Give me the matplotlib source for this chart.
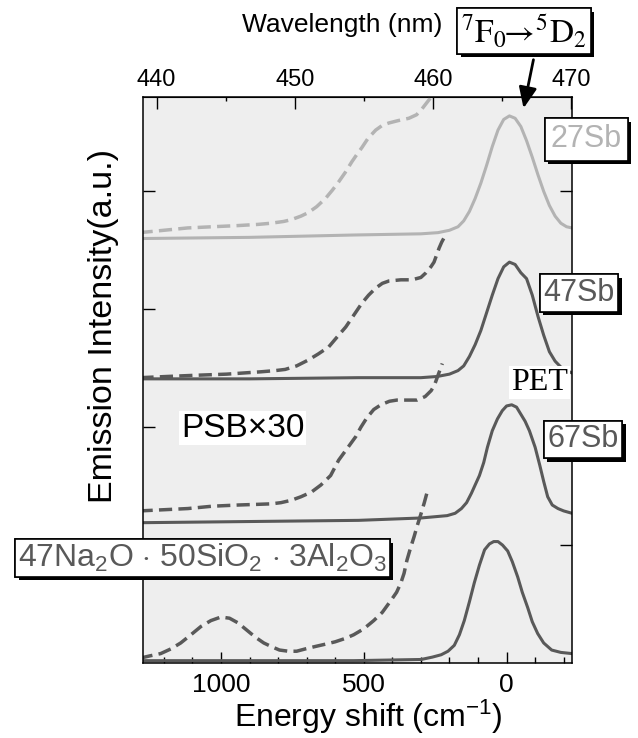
import matplotlib.pyplot as plt
import matplotlib.patheffects as pe

plt.rcParams['font.family'] = ['Liberation Sans', 'DejaVu Sans']
plt.rcParams['mathtext.fontset'] = 'custom'
plt.rcParams['mathtext.rm'] = 'Liberation Sans'
plt.rcParams['mathtext.it'] = 'Liberation Sans:italic'
plt.rcParams['mathtext.bf'] = 'Liberation Sans:bold'

# ---- data (energy shift in cm-1, stacked intensity) ----
e_27 = [1282, 900, 535, 300, 240, 200, 170, 150, 130, 110, 90, 70, 50, 30, 10, -10, -30, -50, -70,
        -90, -110, -130, -150, -170, -190, -210, -229]
i_27 = [3.60, 3.61, 3.63, 3.64, 3.65, 3.67, 3.70, 3.75, 3.83, 3.94, 4.07, 4.22, 4.38, 4.52, 4.61, 4.64,
        4.62, 4.55, 4.43, 4.29, 4.14, 4.00, 3.88, 3.79, 3.73, 3.70, 3.69]
e_27_psb = [1285, 1200, 1116, 1030, 940, 870, 824, 780, 754, 720, 694, 665, 634, 610, 588, 565, 542,
            525, 507, 485, 458, 435, 412, 380, 342, 315, 296, 280, 264]
i_27_psb = [3.65, 3.67, 3.69, 3.70, 3.71, 3.72, 3.73, 3.745, 3.76, 3.79, 3.82, 3.87, 3.94, 4.01, 4.08,
            4.16, 4.25, 4.31, 4.37, 4.45, 4.52, 4.56, 4.58, 4.60, 4.62, 4.65, 4.70, 4.75, 4.80]

e_47 = [1282, 900, 518, 300, 243, 200, 170, 150, 130, 110, 90, 70, 50, 30, 10, -10, -30, -50, -70,
        -90, -110, -130, -150, -170, -190, -210, -229]
i_47 = [2.41, 2.41, 2.42, 2.42, 2.43, 2.45, 2.48, 2.52, 2.60, 2.70, 2.82, 2.97, 3.12, 3.26, 3.36, 3.40,
        3.38, 3.31, 3.26, 3.12, 2.94, 2.78, 2.64, 2.56, 2.51, 2.48, 2.46]
e_47_psb = [1282, 1190, 1092, 980, 859, 810, 775, 735, 694, 660, 623, 595, 563, 535, 507, 483, 458,
            435, 412, 370, 331, 300, 282, 265, 254, 245, 236, 227, 218]
i_47_psb = [2.42, 2.43, 2.44, 2.45, 2.47, 2.48, 2.49, 2.52, 2.57, 2.62, 2.68, 2.76, 2.85, 2.95, 3.05,
            3.12, 3.18, 3.22, 3.24, 3.25, 3.25, 3.27, 3.31, 3.36, 3.40, 3.46, 3.52, 3.57, 3.61]

e_67 = [1282, 900, 518, 300, 208, 180, 158, 140, 123, 110, 95, 80, 67, 50, 32, 15, 0, -18, -35, -50,
        -65, -80, -100, -116, -130, -144, -160, -180, -200, -229]
i_67 = [1.19, 1.20, 1.21, 1.23, 1.25, 1.27, 1.31, 1.36, 1.44, 1.51, 1.59, 1.70, 1.83, 1.97, 2.07, 2.14,
        2.18, 2.19, 2.17, 2.11, 2.05, 1.97, 1.83, 1.68, 1.54, 1.41, 1.34, 1.31, 1.29, 1.27]
e_67_psb = [1285, 1200, 1116, 1030, 940, 880, 824, 790, 754, 720, 683, 650, 616, 588, 558, 528, 510,
            489, 465, 440, 410, 384, 350, 313, 285, 264, 252, 243, 234, 225]
i_67_psb = [1.29, 1.30, 1.31, 1.33, 1.34, 1.345, 1.35, 1.36, 1.38, 1.41, 1.45, 1.51, 1.59, 1.72, 1.82,
            1.92, 2.00, 2.08, 2.15, 2.19, 2.22, 2.23, 2.23, 2.23, 2.26, 2.31, 2.36, 2.42, 2.48, 2.54]

e_nas = [1282, 900, 535, 299, 260, 229, 205, 183, 165, 148, 130, 113, 95, 77, 60, 45, 30, 14, -4, -20,
         -39, -55, -74, -90, -109, -130, -158, -190, -229]
i_nas = [0.02, 0.02, 0.02, 0.03, 0.05, 0.07, 0.10, 0.15, 0.24, 0.36, 0.52, 0.68, 0.83, 0.96, 1.01,
         1.03, 1.03, 1.00, 0.95, 0.86, 0.73, 0.60, 0.47, 0.35, 0.25, 0.17, 0.11, 0.09, 0.08]
e_nas_psb = [1285, 1250, 1211, 1175, 1141, 1105, 1070, 1035, 1000, 970, 940, 910, 880, 850, 824, 795,
             764, 735, 704, 670, 634, 600, 563, 535, 500, 465, 435, 405, 385, 370, 359, 349, 337, 324,
             312, 299, 288, 278]
i_nas_psb = [0.04, 0.06, 0.08, 0.12, 0.17, 0.24, 0.31, 0.36, 0.39, 0.38, 0.34, 0.28, 0.22, 0.17, 0.14,
             0.11, 0.10, 0.10, 0.12, 0.14, 0.16, 0.18, 0.21, 0.24, 0.29, 0.36, 0.43, 0.53, 0.60, 0.68,
             0.76, 0.87, 0.97, 1.07, 1.17, 1.27, 1.36, 1.45]

energy_major = [1000, 500, 0]
energy_minor = [1200, 1100, 900, 800, 700, 600, 400, 300, 200, 100, -100, -200]
wl_major = [440, 450, 460, 470]
wl_minor = [445, 455, 465]
y_ticks = [1, 2, 3, 4]

light = '#b3b3b3'
dark = '#595959'

fig = plt.figure(figsize=(6.38, 7.38), dpi=100)
ax = fig.add_axes([0.2241, 0.1016, 0.6724, 0.7669])
ax.set_facecolor('#eeeeee')

dash = (3.8, 1.8)
ax.plot(e_27_psb, i_27_psb, color=light, lw=2.5, dashes=dash)
ax.plot(e_27, i_27, color=light, lw=2.2)
ax.plot(e_47_psb, i_47_psb, color=dark, lw=2.5, dashes=dash)
ax.plot(e_47, i_47, color=dark, lw=2.2)
ax.plot(e_67_psb, i_67_psb, color=dark, lw=2.5, dashes=dash)
ax.plot(e_67, i_67, color=dark, lw=2.2)
ax.plot(e_nas_psb, i_nas_psb, color=dark, lw=2.5, dashes=dash)
ax.plot(e_nas, i_nas, color=dark, lw=2.2)

ax.set_xlim(1273, -229)
ax.set_ylim(0, 4.8)
ax.set_xticks(energy_major)
ax.set_xticks(energy_minor, minor=True)
ax.set_yticks(y_ticks)
ax.tick_params(axis='x', which='major', direction='in', length=8, width=1, labelsize=19, pad=7, top=False)
ax.tick_params(axis='x', which='minor', direction='in', length=4, width=1, top=False)
ax.tick_params(axis='y', direction='in', length=8.5, width=1, left=True, right=True, labelleft=False)
for s in ax.spines.values():
    s.set_linewidth(1.1)

# top wavelength axis (linear, as in the original figure)
sec = ax.secondary_xaxis('top', functions=(lambda e: 465.31 - 0.020658 * e,
                                           lambda w: (465.31 - w) / 0.020658))
sec.set_xticks(wl_major)
sec.set_xticks(wl_minor, minor=True)
sec.tick_params(which='major', direction='in', length=8.5, width=1, labelsize=17, pad=4)
sec.tick_params(which='minor', direction='in', length=3, width=1)

fig.text(0.5356, 0.966, 'Wavelength (nm)', fontsize=19, ha='center', va='center')
fig.text(0.578, 0.029, r'Energy shift (cm$^{-1}$)', fontsize=23, ha='center', va='center')
fig.text(0.163, 0.5576, 'Emission Intensity(a.u.)', fontsize=24.5, rotation=90, ha='center', va='center')

shadow = [pe.withSimplePatchShadow(offset=(2.5, -2.5), shadow_rgbFace='black', alpha=1), pe.Normal()]
def boxed(x, y, s, color, size, pad=0.12, **kw):
    fig.text(x, y, s, color=color, fontsize=size, ha='center', va='center', zorder=10,
             bbox=dict(boxstyle='square,pad=%g' % pad, fc='white', ec='black', lw=1.2, path_effects=shadow), **kw)

boxed(0.919, 0.811, '27Sb', light, 22, pad=0.2)
boxed(0.9075, 0.603, '47Sb', dark, 22)
boxed(0.9138, 0.4045, '67Sb', dark, 22)
boxed(0.3174, 0.2439, r'47Na$_2$O $\cdot$ 50SiO$_2$ $\cdot$ 3Al$_2$O$_3$', dark, 23, pad=0.08)
boxed(0.8213, 0.958, r'$^7\mathrm{F}_0\!\!\rightarrow\!{}^5\mathrm{D}_2$', 'black', 24, math_fontfamily='stix')

fig.text(0.8456, 0.4817, 'PET', fontsize=23, family='Liberation Serif', ha='center', va='center',
         bbox=dict(boxstyle='square,pad=0.05', fc='white', ec='none'))
fig.text(0.380, 0.420, 'PSB\u00d730', fontsize=24, ha='center', va='center',
         bbox=dict(boxstyle='square,pad=0.05', fc='white', ec='none'))

ax.annotate('', xy=(523, 738 - 111), xytext=(534, 738 - 57), xycoords='figure pixels',
            textcoords='figure pixels',
            arrowprops=dict(arrowstyle='-|>,head_length=0.7,head_width=0.3', color='black',
                            lw=2, mutation_scale=18))

fig.savefig('out.png', dpi=100)
